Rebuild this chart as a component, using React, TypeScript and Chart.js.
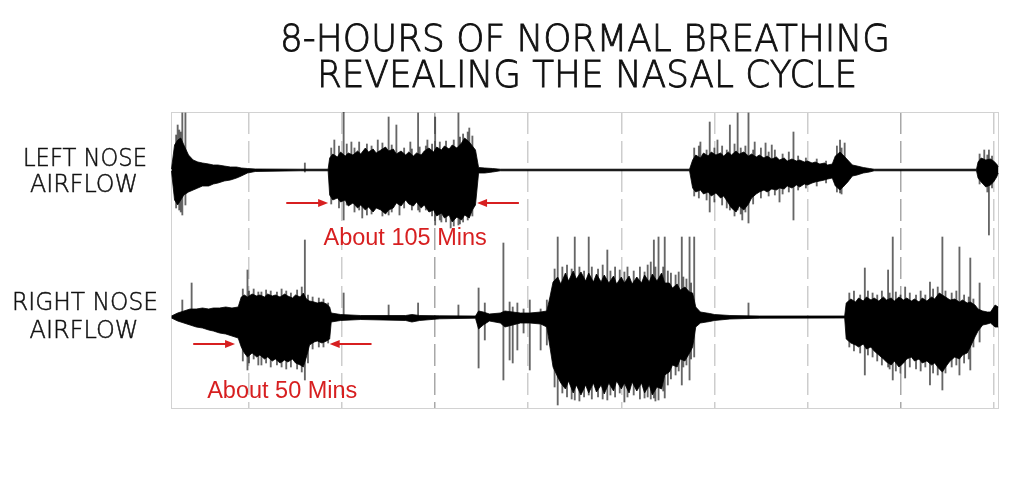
import React, { useEffect, useRef } from "react";
import { Chart, registerables } from "chart.js";

Chart.register(...registerables);

// Time in minutes from the first hour mark, amplitudes in arbitrary airflow units.
// Each row: [minute, upper envelope, lower envelope]
const leftNose: [number, number, number][] = [
  [-50, 1, -1], [-48, 25, -30], [-46, 30, -35], [-44, 32, -30], [-42, 25, -25],
  [-39, 15, -22], [-36, 10, -20], [-33, 8, -18], [-30, 7, -16], [-26, 6, -16],
  [-23, 5, -14], [-20, 5, -13], [-16, 4, -11], [-12, 3, -10], [-8, 3, -8],
  [-5, 2, -6], [-1, 1.5, -3], [4, 1, -1.5], [33, 0.8, -0.8], [51, 0.8, -0.8],
  [52, 12, -25], [54, 16, -30], [57, 13, -28], [59, 18, -32], [62, 14, -30],
  [64, 17, -36], [67, 15, -33], [70, 19, -38], [72, 16, -35], [75, 22, -40],
  [77, 18, -37], [80, 21, -42], [82, 17, -38], [85, 20, -40], [88, 23, -44],
  [90, 19, -40], [93, 21, -38], [95, 16, -33], [98, 19, -36], [101, 15, -30],
  [103, 18, -34], [106, 14, -36], [108, 17, -32], [111, 15, -38], [113, 19, -35],
  [116, 22, -42], [119, 18, -40], [121, 23, -46], [124, 20, -43], [126, 24, -48],
  [129, 21, -45], [131, 25, -52], [134, 22, -47], [137, 27, -50], [139, 32, -45],
  [142, 28, -48], [144, 24, -40], [146, 20, -35], [148, 2.5, -3], [152, 2, -3],
  [157, 1.5, -2], [162, 0.8, -0.8], [284, 0.8, -0.8],
  [286, 10, -18], [288, 15, -22], [291, 12, -20], [293, 17, -24], [296, 14, -22],
  [298, 18, -26], [301, 15, -23], [304, 17, -28], [306, 14, -26], [309, 18, -33],
  [311, 15, -38], [314, 19, -42], [316, 16, -36], [319, 18, -40], [322, 14, -34],
  [324, 16, -28], [327, 13, -24], [329, 15, -22], [332, 12, -20], [334, 14, -22],
  [337, 11, -19], [340, 13, -20], [342, 10, -18], [345, 12, -19], [347, 9, -16],
  [350, 11, -18], [353, 9, -15], [355, 10, -17], [358, 8, -14], [360, 9, -15],
  [363, 7, -13], [365, 8, -12], [368, 6, -11], [371, 7, -10], [373, 5, -9],
  [376, 6, -8], [378, 14, -16], [381, 18, -20], [383, 15, -17], [386, 10, -12],
  [389, 5, -6], [392, 4, -5], [396, 2.5, -3], [400, 1.5, -2], [403, 0.8, -0.8],
  [469, 0.8, -0.8], [470, 8, -8], [472, 12, -12], [475, 10, -17], [478, 11, -15],
  [480, 9, -12], [482, 6, -7], [483, 3, -3],
];

const rightNose: [number, number, number][] = [
  [-50, 1, -1], [-46, 4, -4], [-42, 6, -6], [-38, 8, -8], [-34, 8, -10],
  [-30, 9, -11], [-26, 8, -13], [-23, 9, -14], [-19, 9, -16], [-15, 10, -17],
  [-11, 9, -19], [-7, 10, -21], [-5, 20, -30], [-3, 22, -36], [-1, 20, -40],
  [2, 23, -36], [5, 21, -40], [7, 22, -38], [10, 20, -42], [12, 23, -40],
  [15, 21, -44], [17, 22, -42], [20, 20, -46], [23, 23, -43], [25, 21, -45],
  [28, 19, -42], [30, 22, -46], [33, 20, -48], [35, 24, -50], [37, 18, -40],
  [39, 16, -28], [42, 15, -25], [44, 14, -24], [47, 15, -26], [50, 13, -24],
  [52, 10, -22], [53, 4, -5], [59, 2.5, -3.5], [72, 1.5, -2.5], [101, 1.5, -3.5],
  [105, 2.5, -5], [110, 1.5, -3.5], [123, 1.2, -1.8], [146, 1, -1.2], [148, 6, -12],
  [151, 5, -8], [155, 3, -4], [162, 4, -6], [165, 6, -10], [170, 5, -8],
  [175, 4, -6], [181, 4, -6], [188, 5, -7], [192, 6, -10],
  [194, 20, -30], [196, 35, -50], [199, 40, -60], [201, 33, -66], [204, 44, -72],
  [206, 36, -64], [209, 46, -76], [211, 38, -68], [214, 45, -78], [217, 36, -68],
  [219, 44, -76], [222, 35, -66], [224, 43, -75], [227, 35, -68], [229, 42, -77],
  [232, 34, -66], [235, 41, -74], [237, 33, -64], [240, 40, -72], [242, 34, -66],
  [245, 41, -76], [247, 33, -65], [250, 40, -74], [253, 34, -66], [255, 42, -76],
  [258, 35, -68], [260, 43, -78], [263, 36, -70], [266, 44, -72], [268, 34, -58],
  [271, 34, -55], [273, 29, -48], [276, 33, -50], [278, 27, -42], [281, 30, -44],
  [284, 25, -36], [286, 24, -30], [288, 10, -10], [291, 5, -6], [297, 3.5, -4.5],
  [300, 2.5, -3.5], [310, 1.5, -2], [329, 1, -1.2], [384, 1, -1],
  [385, 14, -22], [388, 18, -26], [391, 15, -28], [393, 19, -30], [396, 16, -27],
  [398, 20, -32], [401, 17, -30], [403, 19, -34], [406, 16, -38], [409, 20, -42],
  [411, 17, -45], [414, 19, -48], [416, 16, -44], [419, 20, -50], [422, 17, -46],
  [424, 19, -42], [427, 16, -40], [429, 18, -44], [432, 15, -42], [434, 19, -46],
  [437, 16, -44], [440, 20, -48], [442, 18, -46], [445, 24, -52], [447, 22, -55],
  [450, 19, -48], [452, 17, -44], [455, 18, -40], [458, 15, -42], [460, 17, -38],
  [463, 14, -36], [465, 15, -30], [468, 12, -20], [470, 8, -14], [473, 6, -8],
  [476, 5, -7], [478, 5, -6], [481, 12, -10], [483, 10, -10],
];

// Single breaths that stick out of the envelope: [minute, peak, trough]
const leftSpikes: [number, number, number][] = [
  [-47, 35, -38], [-46, 45, -10], [-45, 40, -40], [-44, 38, -42], [-43, 57, -45],
  [-41, 57, -35], [36, 7, -2],
  [53, 22, -34], [55, 30, -5], [58, 24, -38], [61, 58, -50], [63, 26, -35],
  [66, 28, -10], [68, 22, -42], [71, 28, -40], [73, 10, -48], [76, 26, -45],
  [79, 24, -44], [83, 30, -5], [86, 27, -46], [90, 53, -45], [92, 25, -42],
  [95, 45, -10], [97, 10, -45], [100, 22, -38], [104, 28, -10], [105, 21, -40],
  [109, 57, -40], [110, 23, -42], [114, 24, -40], [115, 30, -10], [118, 26, -46],
  [120, 53, -55], [123, 28, -50], [124, 15, -52], [127, 29, -52], [130, 15, -58],
  [132, 30, -56], [135, 57, -55], [136, 33, -54], [138, 36, -52], [141, 38, -50],
  [142, 42, -10], [144, 34, -46],
  [287, 22, -26], [290, 24, -28], [291, 28, -10], [295, 20, -30], [297, 48, -42],
  [300, 22, -32], [302, 30, -10], [305, 24, -35], [308, 20, -38], [310, 45, -40],
  [313, 26, -46], [315, 57, -40], [317, 22, -44], [318, 10, -50], [320, 24, -42],
  [322, 57, -53], [325, 20, -34], [326, 28, -10], [330, 22, -28], [333, 27, -10],
  [335, 18, -26], [337, 25, -10], [339, 20, -25], [342, 10, -32], [344, 16, -24],
  [348, 18, -22], [351, 38, -50], [354, 14, -20], [359, 12, -18], [366, 11, -16],
  [372, 9, -13], [379, 24, -22], [381, 30, -23], [382, 22, -24], [384, 27, -10],
  [471, 16, -14], [474, 20, -5], [476, 15, -22], [477, 20, -65], [479, 14, -18],
];

const rightSpikes: [number, number, number][] = [
  [-43, 17, 0], [-37, 34, 0],
  [-4, 28, -44], [-1, 47, -53], [0, 26, -46], [3, 28, -42], [6, 25, -48],
  [8, 25, -48], [11, 27, -46], [14, 26, -50], [18, 25, -48], [21, 28, -50],
  [24, 26, -52], [27, 24, -50], [31, 27, -52], [34, 30, -55], [36, 77, -63],
  [38, 22, -46], [41, 20, -32], [45, 19, -30], [48, 18, -30], [51, 14, -26],
  [61, 24, 0], [90, 12, 0], [109, 14, 0], [135, 12, 0], [148, 29, -51],
  [152, 14, -23], [164, 74, -63], [168, 15, -43], [170, 10, -46], [173, 14, -33],
  [177, 8, -16], [181, 17, -53], [188, 8, -33], [192, 17, -28],
  [197, 48, -70], [199, 80, -88], [202, 50, -76], [205, 52, -80], [208, 48, -82],
  [210, 80, -83], [213, 50, -84], [216, 46, -80], [219, 80, -78], [221, 50, -82],
  [225, 48, -80], [228, 52, -82], [231, 67, -83], [233, 46, -78], [236, 50, -80],
  [239, 47, -76], [242, 45, -85], [244, 50, -80], [248, 46, -78], [252, 50, -82],
  [255, 45, -81], [257, 52, -80], [259, 55, -82], [261, 77, -81], [262, 50, -84],
  [264, 80, -83], [267, 50, -74], [268, 80, -81], [270, 46, -68], [272, 44, -62],
  [275, 42, -58], [277, 45, -54], [279, 80, -68], [280, 40, -50], [282, 38, -48],
  [284, 80, -63], [285, 34, -42], [287, 80, -40],
  [322, 14, 0],
  [387, 24, -30], [390, 26, -34], [394, 22, -36], [397, 49, -58], [399, 26, -38],
  [402, 24, -40], [405, 22, -44], [408, 26, -48], [412, 47, -50], [413, 24, -52],
  [415, 80, -63], [417, 25, -54], [420, 22, -56], [423, 30, -61], [426, 24, -50],
  [430, 22, -52], [433, 26, -54], [436, 22, -50], [439, 35, -68], [441, 28, -56],
  [444, 30, -58], [447, 80, -73], [449, 26, -56], [453, 24, -50], [456, 26, -48],
  [458, 70, -58], [461, 22, -46], [464, 20, -42], [465, 59, -53], [467, 18, -30],
  [471, 34, -25],
];

const hourMarks = [0, 60, 120, 180, 240, 300, 360, 420, 480];
const strongMarks = [120, 420];

const titleLines = ["8-HOURS OF NORMAL BREATHING", "REVEALING THE NASAL CYCLE"];
const leftLabel = ["LEFT NOSE", "AIRFLOW"];
const rightLabel = ["RIGHT NOSE", "AIRFLOW"];

// Duration markers: arrows point at the start and end of a congestion cycle
const cycleNotes = [
  { text: "About 105 Mins", start: 51, end: 147, tail: 27, y: 114, textX: 48, textY: 72 },
  { text: "About 50 Mins", start: -9, end: 52, tail: 27, y: -27, textX: -27, textY: -81 },
];

const LEFT_OFFSET = 147;
const RIGHT_OFFSET = 0;
const RED = "#d71f20";

const envelope = (rows: [number, number, number][], offset: number, name: string) => [
  {
    type: "line" as const,
    label: name + " upper",
    data: rows.map(([t, hi]) => ({ x: t, y: offset + hi })),
    borderColor: "#000",
    backgroundColor: "#000",
    borderWidth: 0.8,
    pointRadius: 0,
    tension: 0,
    fill: "+1",
  },
  {
    type: "line" as const,
    label: name + " lower",
    data: rows.map(([t, , lo]) => ({ x: t, y: offset + lo })),
    borderColor: "#000",
    borderWidth: 0.8,
    pointRadius: 0,
    tension: 0,
    fill: false,
  },
];

const spikeBars = (rows: [number, number, number][], offset: number, name: string) => ({
  type: "bar" as const,
  label: name + " spikes",
  data: rows.map(([t, hi, lo]) => ({ x: t, y: [offset + lo, offset + hi] })),
  backgroundColor: "rgba(0,0,0,0.6)",
  barThickness: 1.2,
  grouped: false,
});

const fitText = (ctx: CanvasRenderingContext2D, text: string, cx: number, base: number, width: number) => {
  const w = ctx.measureText(text).width;
  ctx.save();
  ctx.translate(cx, base);
  ctx.scale(width / w, 1);
  ctx.textAlign = "center";
  ctx.fillText(text, 0, 0);
  ctx.strokeText(text, 0, 0);
  ctx.restore();
};

const drawArrow = (ctx: CanvasRenderingContext2D, x1: number, x2: number, y: number) => {
  const dir = Math.sign(x2 - x1);
  ctx.beginPath();
  ctx.moveTo(x1, y);
  ctx.lineTo(x2 - dir * 8, y);
  ctx.stroke();
  ctx.beginPath();
  ctx.moveTo(x2, y);
  ctx.lineTo(x2 - dir * 10, y - 4);
  ctx.lineTo(x2 - dir * 10, y + 4);
  ctx.closePath();
  ctx.fill();
};

const decorations = {
  id: "decorations",
  beforeDatasetsDraw(chart: Chart) {
    const { ctx, chartArea } = chart;
    ctx.save();
    ctx.strokeStyle = "#d2d2d2";
    ctx.lineWidth = 1;
    ctx.strokeRect(chartArea.left + 0.5, chartArea.top + 0.5, chartArea.width - 1, chartArea.height - 1);
    ctx.restore();
  },
  afterDraw(chart: Chart) {
    const { ctx } = chart;
    const xs = chart.scales.x;
    const ys = chart.scales.y;
    ctx.save();
    ctx.fillStyle = "#111";
    ctx.strokeStyle = "#111";
    ctx.lineWidth = 0.8;
    ctx.font = '200 37px "DejaVu Sans"';
    fitText(ctx, titleLines[0], 585, 51, 610);
    fitText(ctx, titleLines[1], 587, 87, 540);

    ctx.lineWidth = 0.5;
    ctx.font = '200 24px "DejaVu Sans"';
    fitText(ctx, leftLabel[0], 85, 166, 124);
    fitText(ctx, leftLabel[1], 84, 192, 108);
    fitText(ctx, rightLabel[0], 85, 310, 146);
    fitText(ctx, rightLabel[1], 84, 338, 109);

    ctx.fillStyle = RED;
    ctx.strokeStyle = RED;
    ctx.lineWidth = 2;
    ctx.font = '23.5px "Liberation Sans"';
    ctx.textAlign = "left";
    cycleNotes.forEach((n) => {
      const y = ys.getPixelForValue(n.y);
      const a = xs.getPixelForValue(n.start);
      const b = xs.getPixelForValue(n.end);
      drawArrow(ctx, a - n.tail * 1.55, a, y);
      drawArrow(ctx, b + n.tail * 1.55, b, y);
      ctx.fillText(n.text, xs.getPixelForValue(n.textX), ys.getPixelForValue(n.textY));
    });
    ctx.restore();
  },
};

const App: React.FC = () => {
  const canvasRef = useRef<HTMLCanvasElement>(null);
  const chartRef = useRef<Chart | null>(null);

  useEffect(() => {
    if (!canvasRef.current) return;
    if (chartRef.current) chartRef.current.destroy();

    chartRef.current = new Chart(canvasRef.current, {
      type: "line",
      data: {
        datasets: [
          ...envelope(leftNose, LEFT_OFFSET, "Left nose"),
          ...envelope(rightNose, RIGHT_OFFSET, "Right nose"),
          spikeBars(leftSpikes, LEFT_OFFSET, "Left nose"),
          spikeBars(rightSpikes, RIGHT_OFFSET, "Right nose"),
        ] as any,
      },
      options: {
        animation: false,
        responsive: true,
        maintainAspectRatio: false,
        events: [],
        layout: { padding: { left: 171, top: 112, right: 25, bottom: 85 } },
        plugins: { legend: { display: false }, tooltip: { enabled: false }, title: { display: false } },
        scales: {
          x: {
            type: "linear",
            min: -50.3,
            max: 483.5,
            offset: false,
            afterBuildTicks: (scale) => {
              scale.ticks = hourMarks.map((value) => ({ value }));
            },
            ticks: { display: false },
            grid: {
              offset: false,
              drawTicks: false,
              lineWidth: 1.5,
              color: (c) => (strongMarks.includes(c.tick?.value) ? "#a8a8a8" : "#cdcdcd"),
            },
            border: { display: false, dash: [22, 7] },
          },
          y: { type: "linear", min: -92, max: 205, display: false },
        },
      },
      plugins: [decorations],
    });

    return () => {
      if (chartRef.current) {
        chartRef.current.destroy();
        chartRef.current = null;
      }
    };
  }, []);

  return (
    <div style={{ position: "fixed", left: 0, top: 0, width: 1024, height: 494, background: "#fff" }}>
      <canvas ref={canvasRef} />
    </div>
  );
};

export default App;
